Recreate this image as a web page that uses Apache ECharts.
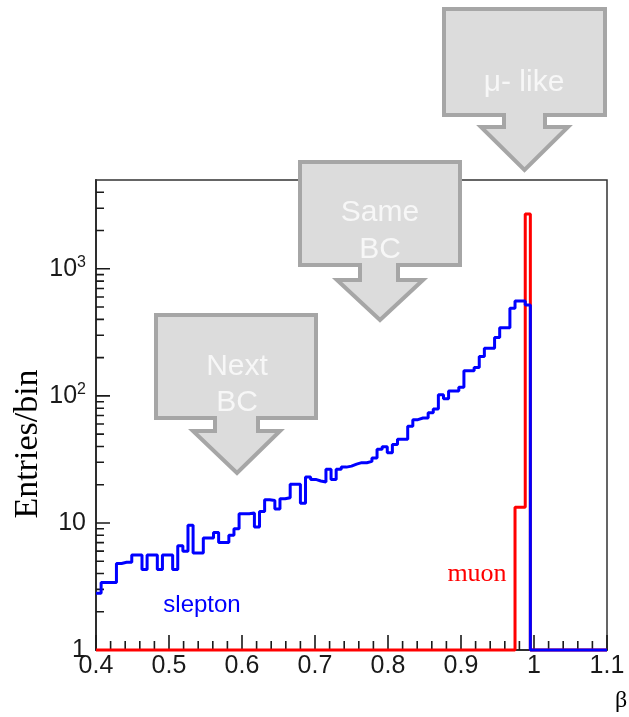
<!DOCTYPE html>
<html><head><meta charset="utf-8">
<script src="https://cdn.jsdelivr.net/npm/echarts@6/dist/echarts.min.js"></script>
<style>html,body{margin:0;padding:0;background:#fff}#c{width:629px;height:717px}</style>
</head><body><div id="c"></div>
<script>
// ---- data ----
const xMin = 0.4, xMax = 1.1, binWidth = 0.007;
const yMin = 1, yMax = 5000;
// slepton entries per bin (bins of width 0.007 starting at 0.4); empty bins afterwards
const sleptonCounts = [
  2.8, 3.4, 3.4, 3.4, 4.8, 4.9, 4.9, 5.6, 5.6, 4.3,
  5.6, 5.6, 4.3, 5.6, 5.6, 4.3, 6.6, 6.0, 9.6, 5.8,
  5.8, 7.6, 7.6, 8.4, 7.0, 7.0, 8.0, 9.0, 11.8, 11.8,
  12.0, 9.3, 12.3, 15.2, 15.0, 12.9, 15.5, 15.8, 20.2, 20.2,
  14.3, 23.0, 22.0, 21.4, 21.0, 26.4, 22.0, 26.4, 27.5, 28.0,
  29.0, 29.8, 29.8, 30.5, 32.5, 38.0, 39.7, 35.7, 41.5, 45.5,
  45.5, 57.6, 65, 67, 67, 73.5, 79, 102, 95, 109,
  109, 117, 158, 158, 167, 204, 237, 237, 288, 344,
  344, 490, 557, 557, 519
];
// muon entries: only the last bins before beta = 1 are filled
const muonFirstBin = 82;
const muonCounts = [13.3, 13.3, 2700];
const xTickLabels = ['0.4', '0.5', '0.6', '0.7', '0.8', '0.9', '1', '1.1'];
const yMajorTicks = [1, 10, 100, 1000];
const yMajorLabels = ['1', '10', '10{s|2}', '10{s|3}'];
const yMinorTicks = [2,3,4,5,6,7,8,9,20,30,40,50,60,70,80,90,200,300,400,500,600,700,800,900,2000,3000,4000];

// ---- build histogram step lines ----
const nBins = Math.round((xMax - xMin) / binWidth);
function histLine(valueAt) {
  const pts = [];
  let last = yMin;
  for (let i = 0; i < nBins; i++) {
    const v = valueAt(i);
    last = (v && v > 0) ? v : yMin;
    pts.push([+(xMin + i * binWidth).toFixed(4), last]);
  }
  pts.push([xMax, last]);
  return pts;
}
const sleptonLine = histLine(i => sleptonCounts[i]);
const muonLine = histLine(i => (i >= muonFirstBin && i < muonFirstBin + muonCounts.length) ? muonCounts[i - muonFirstBin] : 0);

// ---- tick marks as short segments through the axis scales ----
const plotW = 511, plotH = 470;
const pxPerDecade = plotH / Math.log10(yMax / yMin);
const pxPerX = plotW / (xMax - xMin);
const xMajorTicks = xTickLabels.map(parseFloat);
const xMinorTicks = [];
for (let k = 0; k < xMajorTicks.length - 1; k++) {
  for (let j = 1; j < 5; j++) xMinorTicks.push(+(xMajorTicks[k] + j * 0.02).toFixed(3));
}
const tickSegs = [];
xMajorTicks.forEach(v => { tickSegs.push([v, yMin], [v, yMin * Math.pow(10, 15 / pxPerDecade)], [v, '-']); });
xMinorTicks.forEach(v => { tickSegs.push([v, yMin], [v, yMin * Math.pow(10, 9 / pxPerDecade)], [v, '-']); });
yMajorTicks.forEach(v => { tickSegs.push([xMin, v], [xMin + 14 / pxPerX, v], [xMin, '-']); });
yMinorTicks.forEach(v => { tickSegs.push([xMin, v], [xMin + 8 / pxPerX, v], [xMin, '-']); });

// ---- callout shapes (annotation graphics) ----
function callout(L, R, T, B, sL, sR, aY, aL, aR, tipX, tipY) {
  return [[L,T],[R,T],[R,B],[sR,B],[sR,aY],[aR,aY],[tipX,tipY],[aL,aY],[sL,aY],[sL,B],[L,B]];
}
const calloutStyle = { fill: '#dcdcdc', stroke: '#a6a6a6', lineWidth: 4 };
const calloutText = (text, x, y) => ({
  type: 'text', x: x, y: y, z: 101,
  style: { text: text, font: '30px "Liberation Sans", Arial, sans-serif', fill: '#f7f7f7',
           align: 'center', verticalAlign: 'middle', textAlign: 'center', textVerticalAlign: 'middle' }
});

const chart = echarts.init(document.getElementById('c'));
const axisFont = '"Liberation Sans", Arial, sans-serif';
const ySub = { s: { fontSize: 16, fontFamily: axisFont, color: '#1a1a1a', padding: [0, 0, 13, 0] } };

chart.setOption({
  animation: false,
  backgroundColor: '#fff',
  grid: { left: 96, right: 22, top: 180, bottom: 67 },
  xAxis: {
    type: 'value', min: xMin, max: xMax, interval: 0.1,
    axisLine: { show: true, onZero: false, lineStyle: { color: '#222', width: 2 } },
    axisTick: { show: false }, splitLine: { show: false },
    axisLabel: {
      show: true, margin: 4, fontSize: 25, fontFamily: axisFont, color: '#1a1a1a',
      formatter: v => { const k = xMajorTicks.findIndex(t => Math.abs(t - v) < 1e-6); return k >= 0 ? xTickLabels[k] : ''; }
    }
  },
  yAxis: {
    type: 'log', logBase: 10, min: yMin, max: yMax,
    axisLine: { show: true, onZero: false, lineStyle: { color: '#222', width: 2 } },
    axisTick: { show: false }, splitLine: { show: false }, minorTick: { show: false },
    axisLabel: {
      show: true, margin: 10, fontSize: 25, fontFamily: axisFont, color: '#1a1a1a',
      customValues: yMajorTicks,
      formatter: v => { const k = yMajorTicks.findIndex(t => Math.abs(t - v) < 1e-6 * t); return k >= 0 ? yMajorLabels[k] : ''; },
      rich: ySub
    }
  },
  series: [
    { name: 'ticks', type: 'line', data: tickSegs, showSymbol: false, symbol: 'none', connectNulls: false,
      clip: false, silent: true, z: 2, lineStyle: { color: '#1a1a1a', width: 1.6 } },
    { name: 'muon', type: 'line', step: 'end', data: muonLine, showSymbol: false, clip: false,
      lineStyle: { color: '#ff0000', width: 3 }, z: 3 },
    { name: 'slepton', type: 'line', step: 'end', data: sleptonLine, showSymbol: false, clip: false,
      lineStyle: { color: '#0000ff', width: 3 }, z: 4 }
  ],
  graphic: [
    { type: 'rect', z: 1, silent: true, shape: { x: 96, y: 180, width: 511, height: 470 },
      style: { fill: 'none', stroke: '#333', lineWidth: 1.5 } },
    { type: 'text', x: 28, y: 444, rotation: Math.PI / 2, z: 50,
      style: { text: 'Entries/bin', font: '34px "Liberation Serif", "Times New Roman", serif', fill: '#000',
               align: 'center', verticalAlign: 'middle', textAlign: 'center', textVerticalAlign: 'middle' } },
    { type: 'text', x: 621, y: 701, z: 50,
      style: { text: 'β', font: '24px "Liberation Serif", "Times New Roman", serif', fill: '#000',
               align: 'center', verticalAlign: 'middle', textAlign: 'center', textVerticalAlign: 'middle' } },
    { type: 'text', x: 202, y: 605, z: 50,
      style: { text: 'slepton', font: '24px "Liberation Sans", Arial, sans-serif', fill: '#0000ff',
               align: 'center', verticalAlign: 'middle', textAlign: 'center', textVerticalAlign: 'middle' } },
    { type: 'text', x: 477, y: 574, z: 50,
      style: { text: 'muon', font: '26px "Liberation Serif", "Times New Roman", serif', fill: '#ff0000',
               align: 'center', verticalAlign: 'middle', textAlign: 'center', textVerticalAlign: 'middle' } },
    { type: 'polygon', z: 100, shape: { points: callout(444, 605, 9, 115, 504, 545, 127, 481, 568, 524.5, 170) }, style: calloutStyle },
    calloutText('μ- like', 524, 83),
    { type: 'polygon', z: 100, shape: { points: callout(300, 460, 162, 265, 360, 398, 280, 337, 423, 380, 320) }, style: calloutStyle },
    calloutText('Same', 380, 213),
    calloutText('BC', 380, 250),
    { type: 'polygon', z: 100, shape: { points: callout(156, 316, 315, 418, 215, 258, 431, 193, 280, 237, 473) }, style: calloutStyle },
    calloutText('Next', 237, 367),
    calloutText('BC', 237, 403)
  ]
});
</script>
</body></html>
